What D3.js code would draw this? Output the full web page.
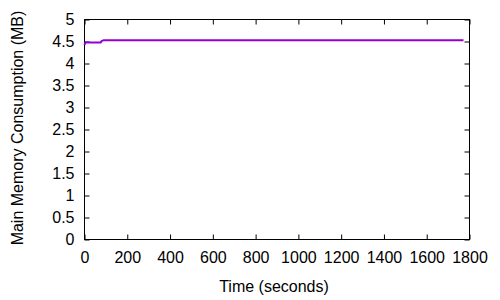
<!DOCTYPE html>
<html>
<head>
<meta charset="utf-8">
<script src="https://cdn.jsdelivr.net/npm/d3@7"></script>
<style>
  body { margin: 0; background: #fff; }
  svg { display: block; }
  text { font-family: "Liberation Sans", Arial, sans-serif; font-size: 16px; fill: #000; }
</style>
</head>
<body>
<svg id="vis"></svg>
<script>
// data ---------------------------------------------------------------
const tiempos = [0, 4, 76, 80, 90, 1772];
const memoria = [4.42, 4.48, 4.48, 4.51, 4.53, 4.53];
const ticksX = [0, 200, 400, 600, 800, 1000, 1200, 1400, 1600, 1800];
const ticksY = [0, 0.5, 1, 1.5, 2, 2.5, 3, 3.5, 4, 4.5, 5];

const WIDTH = 500;
const HEIGHT = 300;
const MARGIN = { top: 19.5, bottom: 60.5, left: 84.5, right: 30.5 };
const WIDTHVIS = WIDTH - MARGIN.left - MARGIN.right;
const HEIGHTVIS = HEIGHT - MARGIN.top - MARGIN.bottom;
const TICK = 5;

const svg = d3.select("#vis").attr("width", WIDTH).attr("height", HEIGHT);

const escalaX = d3.scaleLinear().domain([0, 1800]).range([0, WIDTHVIS]);
const escalaY = d3.scaleLinear().domain([0, 5]).range([HEIGHTVIS, 0]);

const contenedor = svg
  .append("g")
  .attr("transform", `translate(${MARGIN.left} ${MARGIN.top})`);

// ejes (ticks hacia dentro, espejados arriba y a la derecha)
const ejeX = contenedor
  .append("g")
  .attr("transform", `translate(0, ${HEIGHTVIS})`)
  .call(d3.axisBottom(escalaX).tickValues(ticksX).tickSize(-TICK).tickPadding(12).tickFormat((d) => String(d)));
const ejeXsup = contenedor
  .append("g")
  .call(d3.axisTop(escalaX).tickValues(ticksX).tickSize(-TICK).tickFormat(""));
const ejeY = contenedor
  .append("g")
  .call(d3.axisLeft(escalaY).tickValues(ticksY).tickSize(-TICK).tickPadding(10).tickFormat((d) => String(d)));
const ejeYder = contenedor
  .append("g")
  .attr("transform", `translate(${WIDTHVIS}, 0)`)
  .call(d3.axisRight(escalaY).tickValues(ticksY).tickSize(-TICK).tickFormat(""));

[ejeX, ejeXsup, ejeY, ejeYder].forEach((g) => {
  g.select(".domain").remove();
  g.selectAll("line").attr("stroke", "#000");
  g.selectAll("text")
    .style("font-family", '"Liberation Sans", Arial, sans-serif')
    .style("font-size", "16px");
});

// marco
contenedor
  .append("rect")
  .attr("width", WIDTHVIS)
  .attr("height", HEIGHTVIS)
  .attr("fill", "none")
  .attr("stroke", "#000");

// linea
const datos = tiempos.map((t, i) => ({ t: t, m: memoria[i] }));
contenedor
  .append("path")
  .datum(datos)
  .attr("fill", "none")
  .attr("stroke", "#9400d3")
  .attr("stroke-width", 2)
  .attr("d", d3.line().x((d) => escalaX(d.t)).y((d) => escalaY(d.m)));

// titulos
svg
  .append("text")
  .attr("x", 274)
  .attr("y", 292)
  .attr("text-anchor", "middle")
  .text("Time (seconds)");
svg
  .append("text")
  .attr("transform", "translate(23, 128) rotate(-90)")
  .attr("text-anchor", "middle")
  .text("Main Memory Consumption (MB)");
</script>
</body>
</html>
